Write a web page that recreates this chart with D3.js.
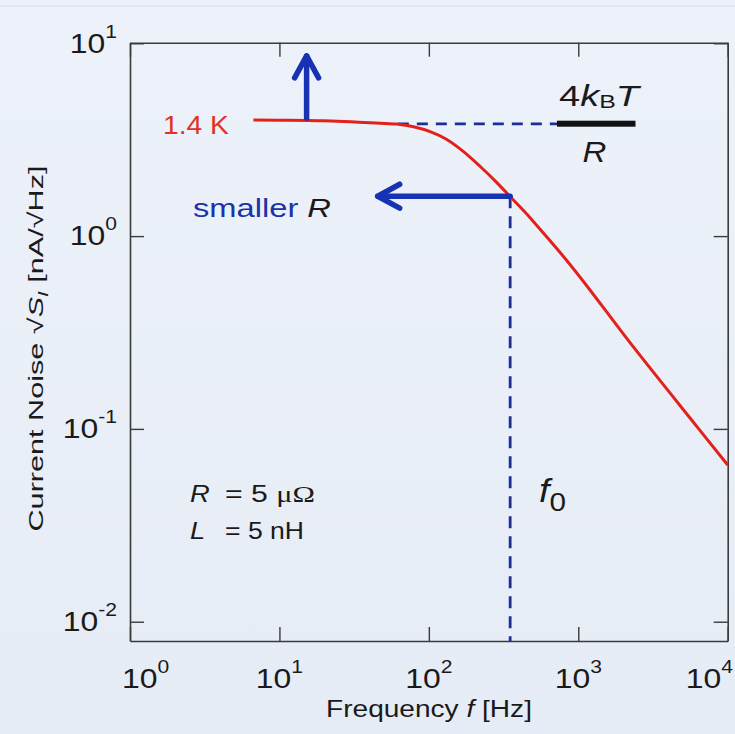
<!DOCTYPE html>
<html><head><meta charset="utf-8">
<script src="https://cdn.jsdelivr.net/npm/d3@7"></script>
<style>
html,body{margin:0;padding:0;background:#e9eff8;}
svg{display:block;}
text{font-family:"Liberation Sans",Arial,Helvetica,sans-serif;fill:#1a1a1a;}
</style></head>
<body><svg id="c" width="735" height="734"></svg>
<script>
// ---- data ----
const freq  = [6.7, 10, 20, 30, 47, 61, 79, 102, 131, 169, 219, 284, 348, 474, 582, 834, 2330, 6500, 10000];
const noise = [4.0, 3.99, 3.96, 3.92, 3.85, 3.81, 3.69, 3.48, 3.18, 2.76, 2.31, 1.90, 1.61, 1.25, 1.04, 0.75, 0.267, 0.0986, 0.065];
const xTickExp = [0, 1, 2, 3, 4];
const yTickExp = [-2, -1, 0, 1];
const plateau = 3.82;         // 4kBT/R level
const f0 = 350;               // corner frequency marker
const f0Noise = 1.61;         // curve value at f0
const dashStartF = 62, dashEndF = 730;
const upArrowF = 15.2, upArrowTop = 8.6, upArrowBase = 4.1;
const leftArrowF = 45.5;

const svg = d3.select('#c');
const W = 735, H = 734;
const L = 130, R = 727.7, T = 42.7, B = 641;
const SX = 1.14;

// background
const defs = svg.append('defs');
const gr = defs.append('linearGradient').attr('id','bg').attr('x1',0).attr('y1',0).attr('x2',0).attr('y2',1);
gr.append('stop').attr('offset','0%').attr('stop-color','#edf2fa');
gr.append('stop').attr('offset','100%').attr('stop-color','#e6ecf5');
svg.append('rect').attr('width',W).attr('height',H).attr('fill','url(#bg)');
svg.append('line').attr('x1',0).attr('x2',W).attr('y1',6).attr('y2',6).attr('stroke','#d6dde8').attr('stroke-width',1);

const x = d3.scaleLog().domain([1, 1e4]).range([L, R]);
const y = d3.scaleLog().domain([Math.pow(10,-2.1), Math.pow(10,1.003)]).range([B, T]);

// axes (frame + inward ticks)
const axCol = '#3a3a3a';
const xt = xTickExp.map(e => Math.pow(10,e));
const yt = yTickExp.map(e => Math.pow(10,e));
function styleAxis(g){
  g.selectAll('path').attr('stroke',axCol).attr('stroke-width',1.6);
  g.selectAll('line').attr('stroke',axCol).attr('stroke-width',1.4);
  g.selectAll('text').remove();
}
svg.append('g').attr('transform',`translate(0,${B})`).call(d3.axisBottom(x).tickValues(xt).tickSizeInner(-14).tickSizeOuter(0).tickFormat('')).call(styleAxis);
svg.append('g').attr('transform',`translate(0,${T})`).call(d3.axisTop(x).tickValues(xt).tickSizeInner(-14).tickSizeOuter(0).tickFormat('')).call(styleAxis);
svg.append('g').attr('transform',`translate(${L},0)`).call(d3.axisLeft(y).tickValues(yt).tickSizeInner(-14).tickSizeOuter(0).tickFormat('')).call(styleAxis);
svg.append('g').attr('transform',`translate(${R},0)`).call(d3.axisRight(y).tickValues(yt).tickSizeInner(-14).tickSizeOuter(0).tickFormat('')).call(styleAxis);

// text helper with horizontal stretch
function ftext(px, py, anchor, target, build, rotate){
  const g = svg.append('g');
  const t = g.append('text').attr('text-anchor', anchor);
  build(t);
  const w = t.node().getComputedTextLength();
  const s = target ? target / w : SX;
  g.attr('transform', `translate(${px},${py})${rotate ? ' rotate(-90)' : ''} scale(${s},1)`);
  return t;
}
function pow10(t, e, size){
  t.attr('font-size', size);
  t.append('tspan').text('10');
  t.append('tspan').attr('font-size', size*0.66).attr('dy', -15).text(String(e));
}

// x tick labels
xTickExp.forEach((e,i) => {
  let anchor = 'middle', px = x(Math.pow(10,e));
  if (i === 0) { anchor = 'start'; px = px - 8; }
  if (i === xTickExp.length-1) { anchor = 'end'; px = 733; }
  ftext(px, 688, anchor, null, t => pow10(t, e, 28));
});
// y tick labels
yTickExp.forEach(e => {
  ftext(117, y(Math.pow(10,e)) + 9.3, 'end', null, t => pow10(t, e, 28));
});

// axis titles
ftext(429, 717, 'middle', 206, t => {
  t.attr('font-size', 23.5);
  t.append('tspan').text('Frequency ');
  t.append('tspan').attr('font-style','italic').text('f');
  t.append('tspan').text(' [Hz]');
});
ftext(43, 348.5, 'middle', 366, t => {
  t.attr('font-size', 21);
  t.append('tspan').text('Current Noise \u221A');
  t.append('tspan').attr('font-style','italic').text('S');
  t.append('tspan').attr('font-style','italic').attr('font-size',14).attr('dy',5).text('I');
  t.append('tspan').attr('dy',-5).text(' [nA/\u221AHz]');
}, true);

// dashed guides
const dashCol = '#1d2f96';
svg.append('line').attr('x1', x(dashStartF)).attr('x2', x(dashEndF)).attr('y1', y(plateau)).attr('y2', y(plateau))
  .attr('stroke', dashCol).attr('stroke-width', 2.6).attr('stroke-dasharray','11,8');
svg.append('line').attr('x1', x(f0)).attr('x2', x(f0)).attr('y1', y(f0Noise)).attr('y2', B)
  .attr('stroke', dashCol).attr('stroke-width', 2.8).attr('stroke-dasharray','12,8');

// curve
const pts = freq.map((f,i) => [x(f), y(noise[i])]);
svg.append('path').attr('d', d3.line().curve(d3.curveMonotoneX)(pts))
  .attr('fill','none').attr('stroke','#e3211a').attr('stroke-width',3);

// arrows
const arrCol = '#1733b3';
function arrow(x1,y1,x2,y2){
  const g = svg.append('g').attr('stroke',arrCol).attr('stroke-width',5.5).attr('fill','none').attr('stroke-linecap','round').attr('stroke-linejoin','round');
  g.append('line').attr('x1',x1).attr('y1',y1).attr('x2',x2).attr('y2',y2);
  const a = Math.atan2(y2-y1, x2-x1), len = 25, sp = 0.5;
  const p1 = [x2 - len*Math.cos(a-sp), y2 - len*Math.sin(a-sp)];
  const p2 = [x2 - len*Math.cos(a+sp), y2 - len*Math.sin(a+sp)];
  g.append('path').attr('d', `M${p1[0]},${p1[1]}L${x2},${y2}L${p2[0]},${p2[1]}`);
}
arrow(x(upArrowF), y(upArrowBase), x(upArrowF), y(upArrowTop));
arrow(x(f0), y(f0Noise), x(leftArrowF), y(f0Noise));

// labels
ftext(163, 134, 'start', 66, t => { t.attr('font-size',26).style('fill','#e2321f').text('1.4 K'); });
ftext(193, 216.5, 'start', 138, t => {
  t.attr('font-size',26);
  t.append('tspan').style('fill','#1a33a8').text('smaller ');
  t.append('tspan').attr('font-style','italic').text('R');
});
ftext(190, 502, 'start', null, t => { t.attr('font-size',24).attr('font-style','italic').text('R'); });
ftext(225, 502, 'start', 90, t => {
  t.attr('font-size',24);
  t.append('tspan').text('= 5 ');
  t.append('tspan').attr('font-family','"Liberation Serif","Times New Roman",serif').text('\u03BC\u03A9');
});
ftext(190, 539, 'start', null, t => { t.attr('font-size',24).attr('font-style','italic').text('L'); });
ftext(225, 539, 'start', 79, t => { t.attr('font-size',24).text('= 5 nH'); });

// 4kBT / R
ftext(559, 106, 'start', 80, t => {
  t.attr('font-size',29);
  t.append('tspan').text('4');
  t.append('tspan').attr('font-style','italic').text('k');
  t.append('tspan').attr('font-size',19).attr('dy',2).text('B');
  t.append('tspan').attr('font-style','italic').attr('dy',-2).text('T');
});
svg.append('rect').attr('x',557).attr('y',120.7).attr('width',78.5).attr('height',6).attr('fill','#111');
ftext(594.5, 161.7, 'middle', null, t => { t.attr('font-size',29).attr('font-style','italic').text('R'); });

// f0
ftext(539, 502, 'start', null, t => {
  t.attr('font-size',33);
  t.append('tspan').attr('font-style','italic').text('f');
  t.append('tspan').attr('font-size',26).attr('dy',9).text('0');
});
</script></body></html>
